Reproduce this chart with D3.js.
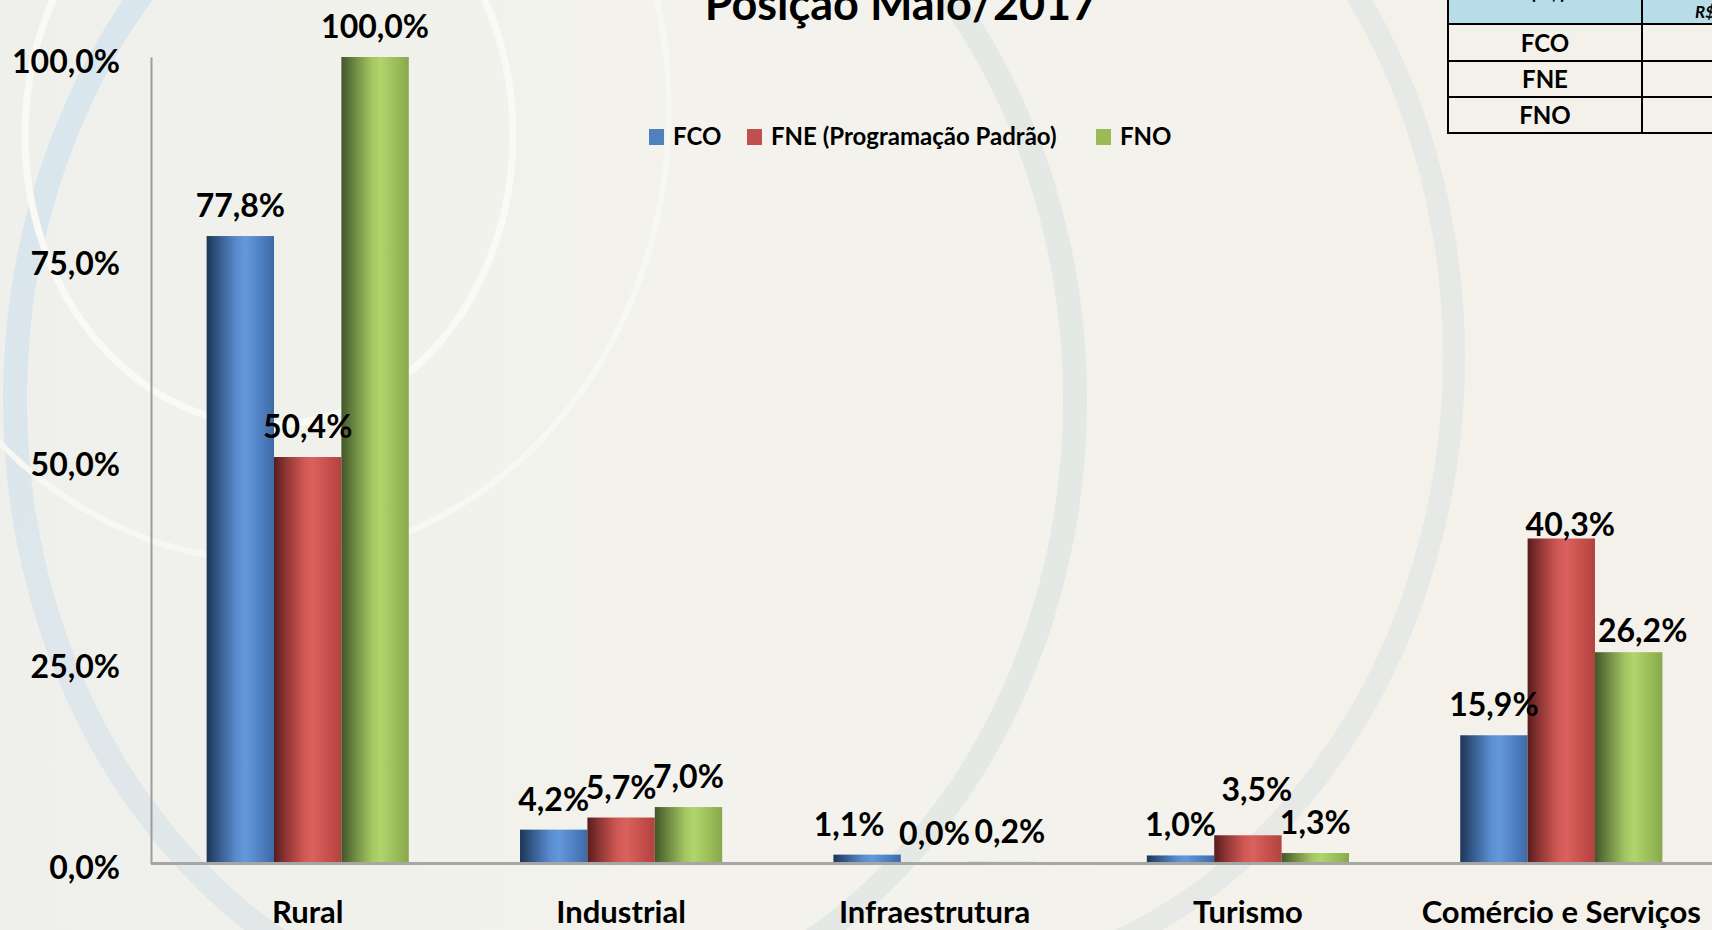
<!DOCTYPE html>
<html>
<head>
<meta charset="utf-8">
<script src="https://cdn.jsdelivr.net/npm/d3@7"></script>
<style>
    html, body { margin: 0; padding: 0; overflow: hidden; background: #f3f1ea; }
    svg text { font-family: Lato, "Open Sans", sans-serif; font-weight: 700; fill: #000; }
</style>
</head>
<body>
<div id="chart"></div>
<script>
// data
const categories = ['Rural', 'Industrial', 'Infraestrutura', 'Turismo', 'Comércio e Serviços'];
const seriesNames = ['FCO', 'FNE (Programação Padrão)', 'FNO'];
const fco = [77.8, 4.2, 1.1, 1.0, 15.9];
const fne = [50.4, 5.7, 0.0, 3.5, 40.3];
const fno = [100.0, 7.0, 0.2, 1.3, 26.2];
const yTicks = [0, 25, 50, 75, 100];
const title = 'Posição Maio/2017';
const tableRows = ['FCO', 'FNE', 'FNO'];
const tableHeader = ['(R$)', 'R$ milhões'];

const seriesValues = [fco, fne, fno];
const colors = ['#4f81bd', '#c0504d', '#9bbb59'];

// label nudges where Excel moved the data labels [dx, dy]
const labelNudge = {
    'Infraestrutura|0': [-18, 0],
    'Infraestrutura|2': [8, 0],
    'Turismo|1': [9, -15],
    'Comércio e Serviços|1': [9, 17],
    'Comércio e Serviços|2': [14, 9]
};

const width = 1712, height = 930;
const fmt = d3.formatLocale({decimal: ',', thousands: '.', grouping: [3], currency: ['R$', '']}).format('.1f');
const pct = v => fmt(v) + '%';

const svg = d3.select('#chart').append('svg')
    .attr('width', width)
    .attr('height', height);

const defs = svg.append('defs');

// background
const bgGrad = defs.append('linearGradient').attr('id', 'bg')
    .attr('x1', 0).attr('x2', 1).attr('y1', 0).attr('y2', 0);
bgGrad.append('stop').attr('offset', 0).attr('stop-color', '#eff0ec');
bgGrad.append('stop').attr('offset', 0.4).attr('stop-color', '#f3f2ec');
bgGrad.append('stop').attr('offset', 1).attr('stop-color', '#f4f1ea');
svg.append('rect').attr('width', width).attr('height', height).attr('fill', 'url(#bg)');

// band colour: bluish at the top left, grey further right
const ringGrad = defs.append('linearGradient').attr('id', 'ring')
    .attr('gradientUnits', 'userSpaceOnUse')
    .attr('x1', 0).attr('y1', 0).attr('x2', 1100).attr('y2', 500);
ringGrad.append('stop').attr('offset', 0).attr('stop-color', '#d8e6ee');
ringGrad.append('stop').attr('offset', 0.35).attr('stop-color', '#dfe7ea');
ringGrad.append('stop').attr('offset', 0.7).attr('stop-color', '#e5e9e5');

const deco = svg.append('g').attr('fill', 'none');
deco.append('ellipse')
    .attr('cx', 545).attr('cy', 400).attr('rx', 530).attr('ry', 625)
    .attr('stroke', 'url(#ring)').attr('stroke-width', 24);
deco.append('path')
    .attr('d', 'M1354,-10 A533,629 0 0 1 1120,940')
    .attr('stroke', '#e6e9e5').attr('stroke-width', 22);
deco.append('ellipse')
    .attr('cx', 269).attr('cy', 135).attr('rx', 244).attr('ry', 290)
    .attr('stroke', '#f9f9f6').attr('stroke-width', 7);
deco.append('ellipse')
    .attr('cx', 269).attr('cy', 110).attr('rx', 400).attr('ry', 450)
    .attr('stroke', '#f7f7f4').attr('stroke-width', 6);

// bar gradients
const shades = [
    ['#1d3656', '#35598a', '#5a8dd0', '#6398da', '#4b7bbd', '#3e69a4'],
    ['#571c1c', '#8f3634', '#d25855', '#da615d', '#c24c49', '#b04340'],
    ['#42552a', '#6a8540', '#a3c661', '#b1d56c', '#97b957', '#88a84c']
];
shades.forEach((s, i) => {
    const g = defs.append('linearGradient').attr('id', 'bar' + i)
        .attr('x1', 0).attr('x2', 1).attr('y1', 0).attr('y2', 0);
    [0, 0.18, 0.45, 0.58, 0.85, 1].forEach((o, j) =>
        g.append('stop').attr('offset', o).attr('stop-color', s[j]));
});

// scales
const x0 = d3.scaleBand()
    .domain(categories)
    .range([151, 151 + 5 * 313.4])
    .paddingInner(0.355)
    .paddingOuter(0.1775);
const x1 = d3.scaleBand()
    .domain(d3.range(seriesNames.length))
    .range([0, x0.bandwidth()]);
const y = d3.scaleLinear().domain([0, 100]).range([863.5, 57]);

// axes
const axisY = svg.append('g').attr('transform', 'translate(151,0)')
    .call(d3.axisLeft(y).tickValues(yTicks).tickFormat(pct).tickSize(0).tickPadding(31));
axisY.select('.domain').attr('stroke', '#9c9c9c').attr('stroke-width', 2);
axisY.selectAll('text')
    .attr('font-size', 32)
    .attr('font-family', 'Lato, sans-serif')
    .attr('font-weight', 700)
    .attr('dy', '0.48em');

// bars
const rows = categories.map((c, i) => ({cat: c, vals: seriesValues.map(s => s[i])}));
const groups = svg.append('g').selectAll('g.group')
    .data(rows)
    .join('g')
    .classed('group', true)
    .attr('transform', d => `translate(${x0(d.cat)},0)`);

groups.selectAll('rect')
    .data(d => d.vals.map((v, k) => ({cat: d.cat, k, v})))
    .join('rect')
    .attr('x', d => x1(d.k))
    .attr('width', x1.bandwidth())
    .attr('y', d => y(d.v))
    .attr('height', d => y(0) - y(d.v))
    .attr('fill', d => `url(#bar${d.k})`);

// x axis line (drawn over bar bottoms)
const axisX = svg.append('g').attr('transform', `translate(0,${y(0)})`)
    .call(d3.axisBottom(x0).tickSize(0).tickPadding(59));
axisX.select('.domain')
    .attr('d', `M151,0H${width}`)
    .attr('stroke', '#a6a6a6').attr('stroke-width', 3);
axisX.selectAll('text')
    .attr('font-size', 31)
    .attr('font-family', 'Lato, sans-serif')
    .attr('font-weight', 700)
    .attr('dy', 0);

// data labels
groups.selectAll('text.val')
    .data(d => d.vals.map((v, k) => ({cat: d.cat, k, v})))
    .join('text')
    .classed('val', true)
    .attr('text-anchor', 'middle')
    .attr('font-size', 32)
    .attr('x', d => x1(d.k) + x1.bandwidth() / 2 + (labelNudge[d.cat + '|' + d.k] || [0, 0])[0])
    .attr('y', d => y(d.v) - 19 + (labelNudge[d.cat + '|' + d.k] || [0, 0])[1])
    .text(d => pct(d.v));

// title
svg.append('text')
    .attr('x', 901).attr('y', 20)
    .attr('text-anchor', 'middle')
    .attr('font-size', 45)
    .text(title);

// legend
const legend = svg.append('g').attr('transform', 'translate(649,129)');
const legendX = [0, 98, 447];
const items = legend.selectAll('g')
    .data(seriesNames)
    .join('g')
    .attr('transform', (d, i) => `translate(${legendX[i]},0)`);
items.append('rect').attr('width', 15).attr('height', 16).attr('fill', (d, i) => colors[i]);
items.append('text').attr('x', 24).attr('y', 16).attr('font-size', 24).text(d => d);

// corner table
const table = svg.append('g');
const colX = [1448, 1642, 1760];
const rowY = [-20, 24, 61, 97, 133];
table.append('rect').attr('x', colX[0]).attr('y', rowY[0])
    .attr('width', colX[2] - colX[0]).attr('height', rowY[1] - rowY[0])
    .attr('fill', '#b7dde8');
table.append('rect').attr('x', colX[0]).attr('y', rowY[1])
    .attr('width', colX[2] - colX[0]).attr('height', rowY[4] - rowY[1])
    .attr('fill', '#f3f1ea');
rowY.slice(1).forEach(yy => table.append('line')
    .attr('x1', colX[0] - 1).attr('x2', colX[2]).attr('y1', yy).attr('y2', yy)
    .attr('stroke', '#000').attr('stroke-width', 2));
colX.slice(0, 2).forEach(xx => table.append('line')
    .attr('x1', xx).attr('x2', xx).attr('y1', rowY[0]).attr('y2', rowY[4] + 1)
    .attr('stroke', '#000').attr('stroke-width', 2));
table.selectAll('text.row')
    .data(tableRows)
    .join('text')
    .classed('row', true)
    .attr('x', (colX[0] + colX[1]) / 2)
    .attr('y', (d, i) => (rowY[i + 1] + rowY[i + 2]) / 2 + 9)
    .attr('text-anchor', 'middle')
    .attr('font-size', 24)
    .text(d => d);
table.append('text')
    .attr('x', 1548).attr('y', -1)
    .attr('text-anchor', 'middle')
    .attr('font-size', 20)
    .text(tableHeader[0]);
table.append('text')
    .attr('x', 1695).attr('y', 18)
    .attr('font-size', 17)
    .attr('font-style', 'italic')
    .text(tableHeader[1]);
</script>
</body>
</html>
